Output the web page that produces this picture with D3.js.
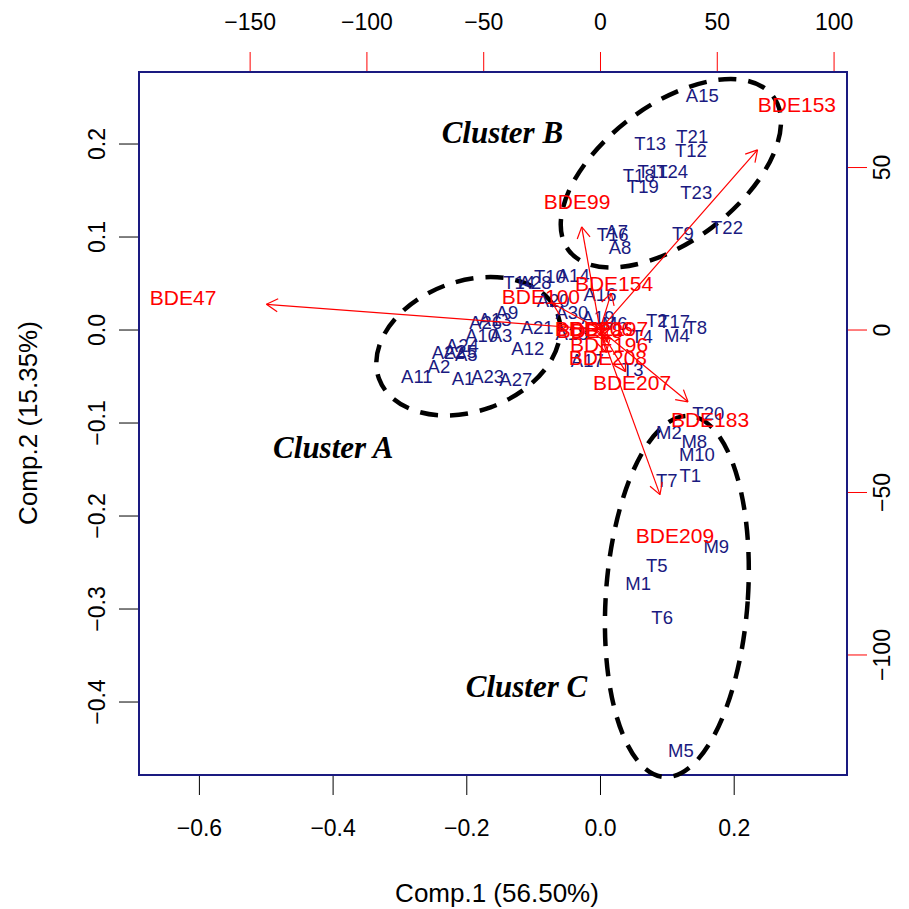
<!DOCTYPE html>
<html>
<head>
<meta charset="utf-8">
<script src="https://cdn.jsdelivr.net/npm/d3@7"></script>
<style>
  body { margin: 0; background: #fff; }
  text { font-family: "Liberation Sans", Arial, sans-serif; }
</style>
</head>
<body>
<div id="chart"></div>
<script>
// scores (Comp.1, Comp.2) for the samples
var obsNames = ["A15","T13","T21","T12","T18","T11","T24","T19","T23","T22","T9","T16","A7","A8",
  "T14","A28","T10","A14","A16","A20","A30","A19","M6","T4","A18","A17","T3",
  "A21","A12","A9","A26","A13","A10","A3","A24","A22","A25","A5","A2","A11","A1","A23","A27",
  "T2","T17","T8","M4","T20","M2","M8","M10","T1","T7","M9","T5","M1","T6","M5"];
var obsX = [0.153,0.075,0.138,0.136,0.058,0.079,0.108,0.064,0.144,0.190,0.124,0.019,0.025,0.030,
  -0.121,-0.097,-0.075,-0.040,0.000,-0.070,-0.042,-0.003,0.022,0.063,-0.042,-0.019,0.049,
  -0.094,-0.108,-0.139,-0.171,-0.157,-0.177,-0.148,-0.206,-0.227,-0.209,-0.200,-0.241,-0.274,-0.205,-0.168,-0.126,
  0.085,0.111,0.144,0.115,0.162,0.103,0.141,0.145,0.135,0.100,0.174,0.085,0.057,0.093,0.121];
var obsY = [0.252,0.200,0.207,0.192,0.166,0.170,0.170,0.154,0.147,0.110,0.103,0.102,0.105,0.088,
  0.050,0.051,0.057,0.058,0.038,0.031,0.018,0.013,0.006,-0.007,-0.004,-0.033,-0.043,
  0.002,-0.020,0.018,0.008,0.011,-0.006,-0.006,-0.017,-0.025,-0.024,-0.027,-0.040,-0.051,-0.053,-0.051,-0.054,
  0.010,0.009,0.002,-0.006,-0.090,-0.111,-0.120,-0.134,-0.157,-0.162,-0.233,-0.254,-0.273,-0.310,-0.453];

// loadings (top / right axis units)
var varNames = ["BDE47","BDE153","BDE99","BDE183","BDE209","BDE154","BDE100","BDE207","BDE196","BDE208","BDE28","BDE206","BDE197"];
var varX = [-178.5, 84.3, -9.8, 47.1, 32.1, 6.0, -25.3, 13.7, 3.9, 3.4, -4.3, -2.6, 3.9];
var varY = [9.7, 69.1, 39.5, -27.8, -63.5, 14.0, 10.0, -16.2, -4.8, -8.8, -0.2, 0.2, 0.2];

var xTicks = [-0.6, -0.4, -0.2, 0.0, 0.2];
var yTicks = [-0.4, -0.3, -0.2, -0.1, 0.0, 0.1, 0.2];
var x2Ticks = [-150, -100, -50, 0, 50, 100];
var y2Ticks = [-100, -50, 0, 50];

// cluster annotations: centre in score units
var clusterNames = ["Cluster A", "Cluster B", "Cluster C"];
var clusterCx = [-0.197, 0.106, 0.115];
var clusterCy = [-0.018, 0.168, -0.287];
var clusterLabX = [-0.399, -0.146, -0.110];
var clusterLabY = [-0.127, 0.212, -0.384];

var ratio = 286.2;
var navy = "#1a1a80";

var margin = { top: 72, right: 62, bottom: 134, left: 139 },
    width = 909 - margin.left - margin.right,
    height = 909 - margin.top - margin.bottom;

var svg = d3.select("#chart").append("svg")
    .attr("width", 909).attr("height", 909)
    .append("g")
    .attr("transform", "translate(" + margin.left + "," + margin.top + ")");

var x = d3.scaleLinear().domain([-0.6896, 0.3695]).range([0, width]);
var y = d3.scaleLinear().domain([-0.479, 0.2769]).range([height, 0]);
var x2 = d3.scaleLinear().domain(x.domain().map(function(d) { return d * ratio; })).range([0, width]);
var y2 = d3.scaleLinear().domain(y.domain().map(function(d) { return d * ratio; })).range([height, 0]);

var fmt = d3.format(".1f");

// bottom axis
var gb = svg.append("g").attr("transform", "translate(0," + height + ")")
    .call(d3.axisBottom(x).tickValues(xTicks).tickFormat(fmt).tickSize(20).tickPadding(25));
gb.select(".domain").remove();
gb.selectAll("text").style("font-size", "23px").attr("fill", "#000");

// left axis
var gl = svg.append("g")
    .call(d3.axisLeft(y).tickValues(yTicks).tickFormat(fmt).tickSize(20));
gl.select(".domain").remove();
gl.selectAll("text").style("font-size", "23px").attr("fill", "#000")
    .attr("x", 0).attr("dy", "0.35em").attr("text-anchor", "middle")
    .attr("transform", "translate(-42,0) rotate(-90)");

// top axis
var gt = svg.append("g")
    .call(d3.axisTop(x2).tickValues(x2Ticks).tickSize(20).tickPadding(22));
gt.select(".domain").remove();
gt.selectAll("line").attr("stroke", "red");
gt.selectAll("text").style("font-size", "23px").attr("fill", "#000");

// right axis
var gr = svg.append("g").attr("transform", "translate(" + width + ",0)")
    .call(d3.axisRight(y2).tickValues(y2Ticks).tickSize(20));
gr.select(".domain").remove();
gr.selectAll("line").attr("stroke", "red");
gr.selectAll("text").style("font-size", "23px").attr("fill", "#000")
    .attr("x", 0).attr("dy", "0.35em").attr("text-anchor", "middle")
    .attr("transform", "translate(35,0) rotate(-90)");

// box
svg.append("rect").attr("width", width).attr("height", height)
    .attr("fill", "none").attr("stroke", navy).attr("stroke-width", 2);

// axis titles
svg.append("text")
    .attr("x", 358).attr("y", height + 127)
    .attr("text-anchor", "middle").style("font-size", "26px")
    .text("Comp.1 (56.50%)");
svg.append("text")
    .attr("transform", "rotate(-90)")
    .attr("x", -(351)).attr("y", -102)
    .attr("text-anchor", "middle").style("font-size", "26px")
    .text("Comp.2 (15.35%)");

// ellipses (radii in px, rotation in degrees)
var ellA = [95, 65, -20], ellB = [128, 68, -37], ellC = [71, 181, 4];
[ellA, ellB, ellC].forEach(function(e, i) {
  svg.append("ellipse")
    .attr("transform", "translate(" + x(clusterCx[i]) + "," + y(clusterCy[i]) + ") rotate(" + e[2] + ")")
    .attr("rx", e[0]).attr("ry", e[1])
    .attr("fill", "none").attr("stroke", "#000")
    .attr("stroke-width", 4.5).attr("stroke-dasharray", "18,12");
});

// sample labels
svg.selectAll(".obs").data(obsNames).enter().append("text")
    .attr("class", "obs")
    .attr("x", function(d, i) { return x(obsX[i]); })
    .attr("y", function(d, i) { return y(obsY[i]); })
    .attr("dy", "0.35em").attr("text-anchor", "middle")
    .style("font-size", "18.5px").attr("fill", navy)
    .text(function(d) { return d; });

// loading arrows (drawn to 0.8 of label position, as R biplot)
var arrows = svg.append("g").attr("stroke", "red").attr("stroke-width", 1.2).attr("fill", "none");
varNames.forEach(function(n, i) {
  var x0 = x2(0), y0 = y2(0);
  var x1 = x2(varX[i] * 0.8), y1 = y2(varY[i] * 0.8);
  arrows.append("line").attr("x1", x0).attr("y1", y0).attr("x2", x1).attr("y2", y1);
  var a = Math.atan2(y1 - y0, x1 - x0), L = 13;
  [-0.5236, 0.5236].forEach(function(s) {
    arrows.append("line").attr("x1", x1).attr("y1", y1)
      .attr("x2", x1 - L * Math.cos(a + s)).attr("y2", y1 - L * Math.sin(a + s));
  });
});

svg.selectAll(".var").data(varNames).enter().append("text")
    .attr("class", "var")
    .attr("x", function(d, i) { return x2(varX[i]); })
    .attr("y", function(d, i) { return y2(varY[i]); })
    .attr("dy", "0.35em").attr("text-anchor", "middle")
    .style("font-size", "21px").attr("fill", "red")
    .text(function(d) { return d; });

// cluster labels
svg.selectAll(".clab").data(clusterNames).enter().append("text")
    .attr("class", "clab")
    .attr("x", function(d, i) { return x(clusterLabX[i]); })
    .attr("y", function(d, i) { return y(clusterLabY[i]); })
    .attr("dy", "0.35em").attr("text-anchor", "middle")
    .style("font-family", "'Liberation Serif', 'Times New Roman', serif")
    .style("font-size", "31px").style("font-weight", "bold").style("font-style", "italic")
    .text(function(d) { return d; });
</script>
</body>
</html>
